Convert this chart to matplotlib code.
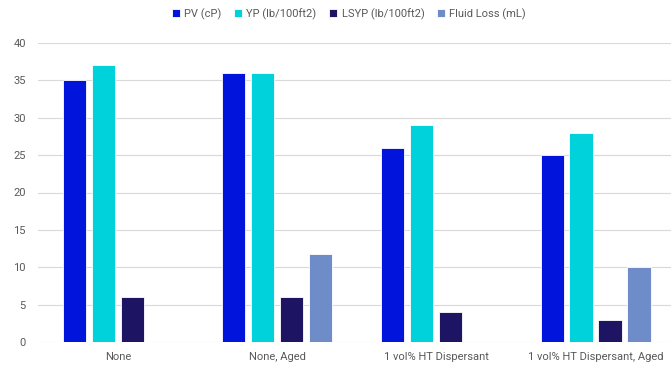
import matplotlib
matplotlib.use("Agg")
import matplotlib.pyplot as plt
import numpy as np

categories = ["None", "None, Aged", "1 vol% HT Dispersant", "1 vol% HT Dispersant, Aged"]
series_names = ["PV (cP)", "YP (lb/100ft2)", "LSYP (lb/100ft2)", "Fluid Loss (mL)"]
pv = [35, 36, 26, 25]
yp = [37, 36, 29, 28]
lsyp = [6, 6, 4, 3]
fluid_loss = [np.nan, 11.8, np.nan, 10.0]
yticks = [0, 5, 10, 15, 20, 25, 30, 35, 40]

colors = ["#0014DC", "#00D2DC", "#1E1464", "#6E8CC8"]

plt.rcParams["font.family"] = ["Roboto", "DejaVu Sans"]

fig = plt.figure(figsize=(6.71, 3.66), dpi=100)
ax = fig.add_axes([38.4 / 671, 1 - 342 / 366, 636.7 / 671, 299 / 366])

x = np.arange(len(categories))
step = 0.182
width = 0.145
for i, (name, vals, c) in enumerate(zip(series_names, [pv, yp, lsyp, fluid_loss], colors)):
    ax.bar(x + (i - 1.5) * step, vals, width, color=c, label=name,
           edgecolor="white", linewidth=0.6, zorder=3)

ax.set_xlim(-0.5, len(categories) - 0.5)
ax.set_ylim(0, 40)
ax.set_yticks(yticks)
ax.set_xticks(x)
ax.set_xticklabels(categories)
ax.grid(axis="y", color="#D9D9D9", linewidth=0.8, zorder=0)
for s in ax.spines.values():
    s.set_visible(False)
ax.tick_params(axis="both", length=0, labelsize=8, colors="#595959")
ax.tick_params(axis="x", pad=7)
ax.tick_params(axis="y", pad=9)

handles, labels = ax.get_legend_handles_labels()
fig.legend(handles, labels, loc="upper center", bbox_to_anchor=(349 / 671, 1.005),
           ncol=4, frameon=False, fontsize=8, handlelength=0.7, handleheight=0.7,
           columnspacing=1.15, handletextpad=0.4, labelcolor="#595959")

fig.savefig("out.png", dpi=100)
